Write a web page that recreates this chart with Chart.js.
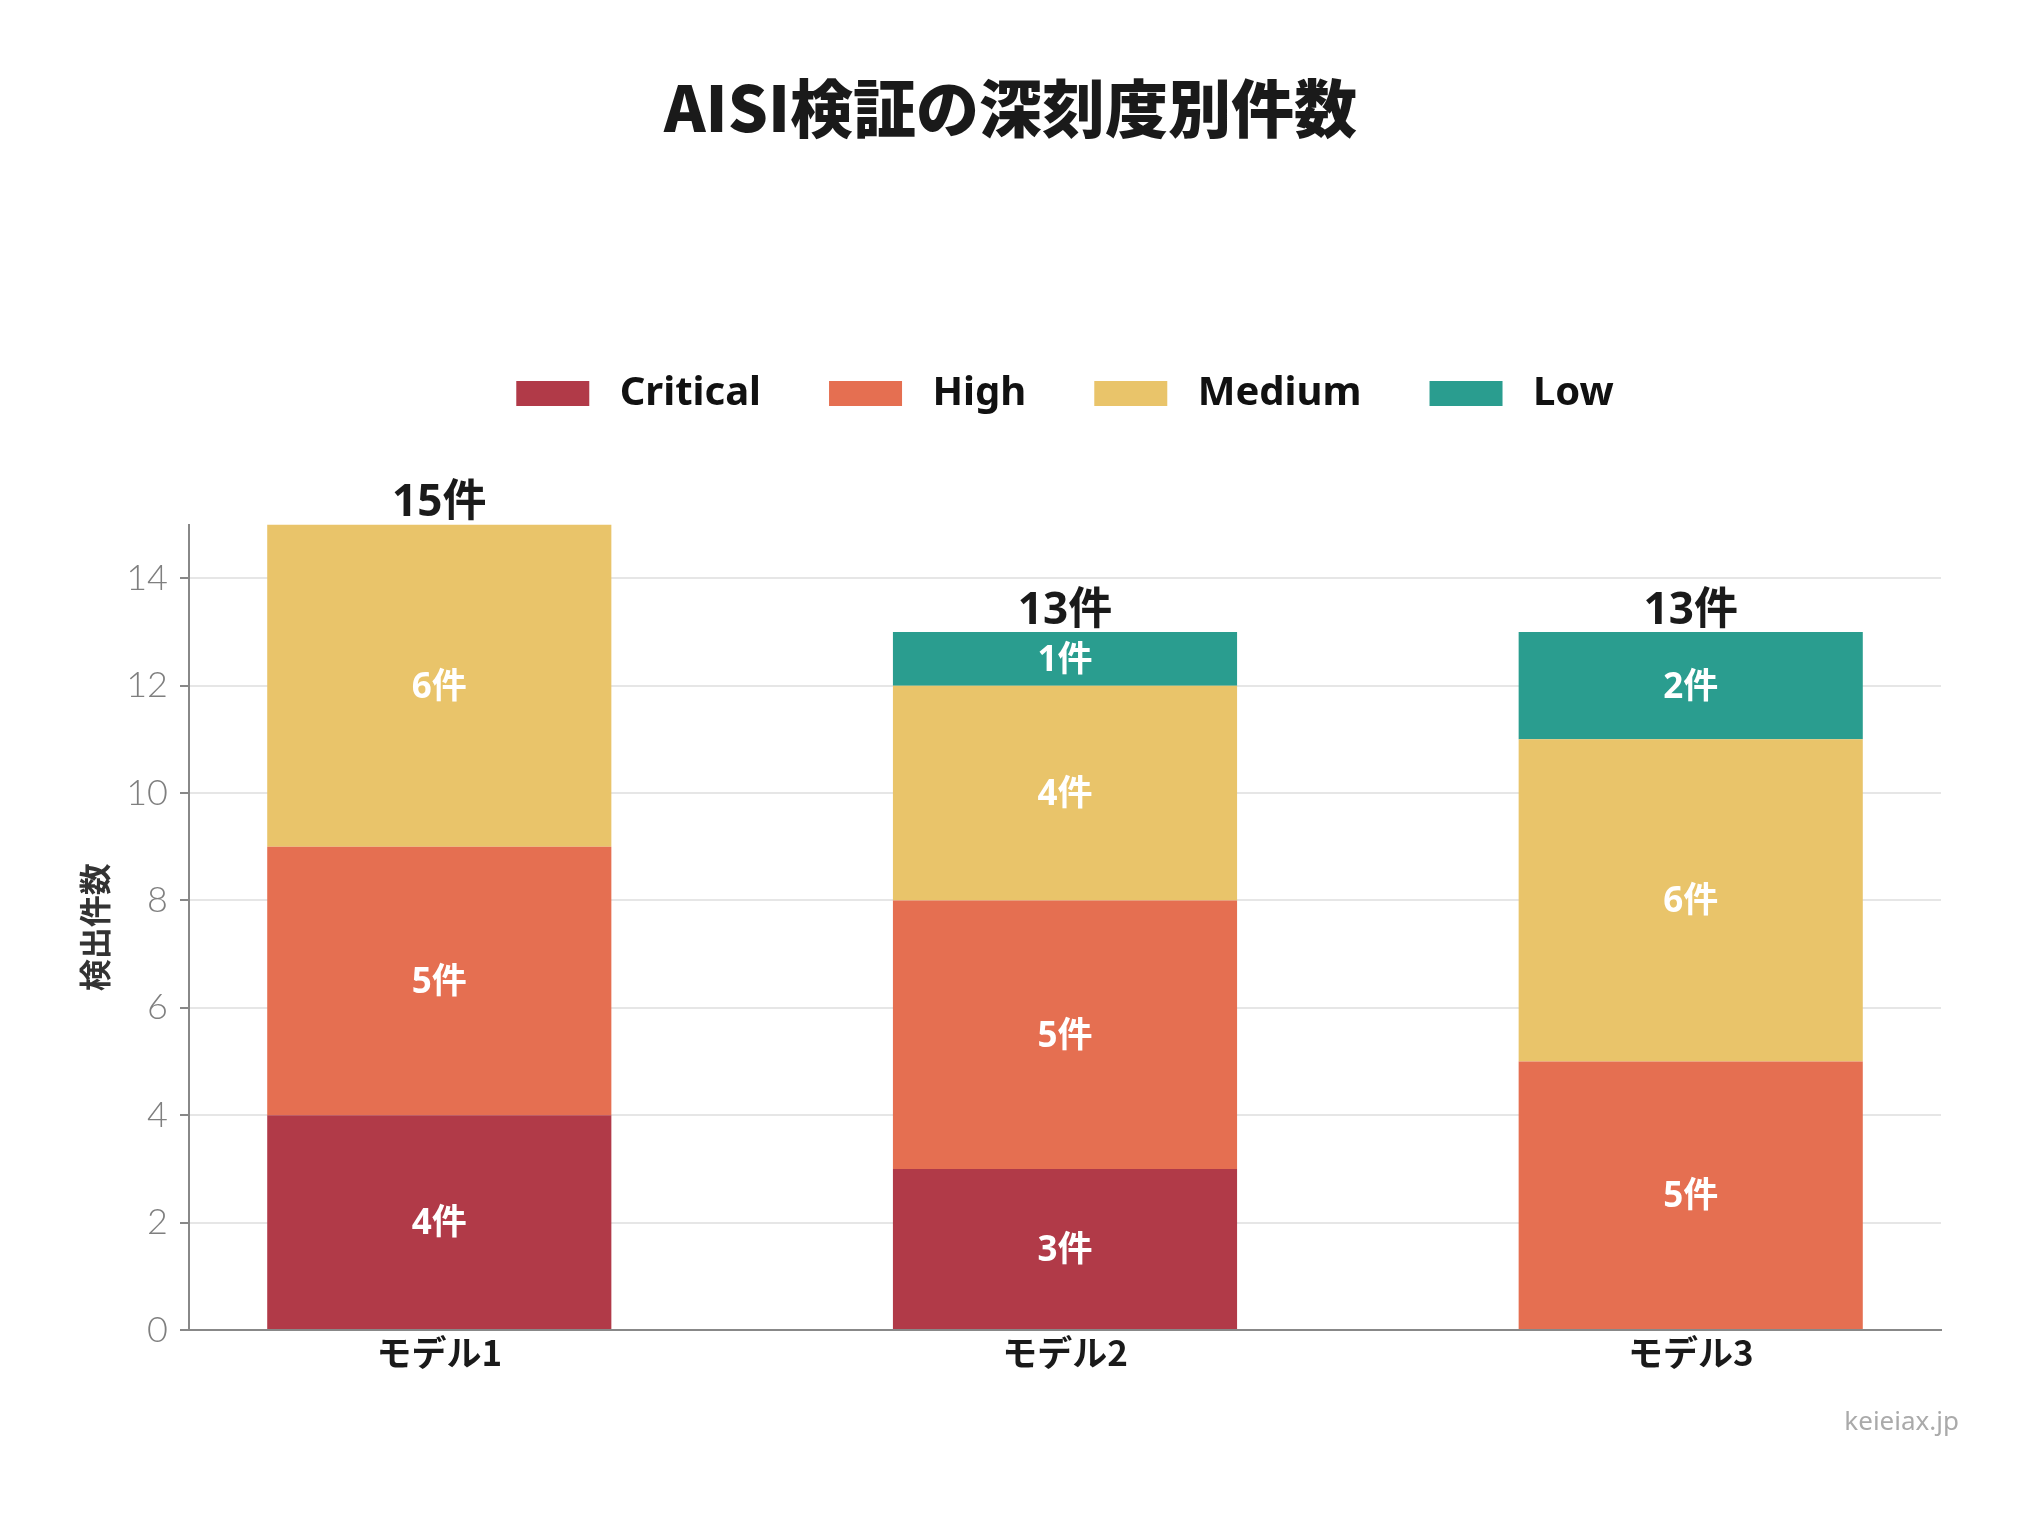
<!DOCTYPE html>
<html lang="ja">
<head>
<meta charset="utf-8">
<script src="https://cdn.jsdelivr.net/npm/chart.js@4.4.1/dist/chart.umd.min.js"></script>
<style>
  html, body { margin: 0; padding: 0; background: #ffffff; }
  #wrap { width: 2040px; height: 1516px; position: relative; }
</style>
</head>
<body>
<div id="wrap"><canvas id="c"></canvas></div>
<script>
// ---- data ----
const TITLE = 'AISI検証の深刻度別件数';
const Y_TITLE = '検出件数';
const UNIT = '件';
const CREDIT = 'keieiax.jp';
const categories = ['モデル1', 'モデル2', 'モデル3'];
const seriesNames = ['Critical', 'High', 'Medium', 'Low'];
const critical = [4, 3, 0];
const high = [5, 5, 5];
const medium = [6, 4, 6];
const low = [0, 1, 2];
const yTicks = [0, 2, 4, 6, 8, 10, 12, 14];
const yMax = 15;

const seriesValues = [critical, high, medium, low];
const seriesColors = ['#b13a48', '#e56f51', '#e9c46a', '#2a9d8f'];

const LATIN = "'Noto Sans', 'Noto Sans CJK JP', sans-serif";
const CJK = "'Noto Sans CJK JP', 'Noto Sans', sans-serif";

const datasets = seriesNames.map((name, i) => ({
  label: name,
  data: seriesValues[i].map((v, j) => ({ x: j, y: v })),
  backgroundColor: seriesColors[i],
  borderWidth: 0,
  categoryPercentage: 1.0,
  barPercentage: 0.55
}));

const labelPlugin = {
  id: 'segLabels',
  afterDatasetsDraw(chart) {
    const ctx = chart.ctx;
    ctx.save();
    ctx.textAlign = 'center';
    ctx.textBaseline = 'middle';
    chart.data.datasets.forEach((ds, i) => {
      const meta = chart.getDatasetMeta(i);
      meta.data.forEach((el, j) => {
        const v = seriesValues[i][j];
        if (!v) return;
        const p = el.getProps(['x', 'y', 'base'], true);
        ctx.font = `700 35px ${LATIN}`;
        ctx.fillStyle = '#ffffff';
        ctx.fillText(v + UNIT, p.x, (p.y + p.base) / 2 + 2);
      });
    });
    const xs = chart.scales.x, ys = chart.scales.y;
    categories.forEach((c, j) => {
      const total = seriesValues.reduce((s, arr) => s + arr[j], 0);
      ctx.font = `700 44px ${LATIN}`;
      ctx.fillStyle = '#1a1a1a';
      ctx.fillText(total + UNIT, xs.getPixelForValue(j), ys.getPixelForValue(total) - 21);
    });
    ctx.restore();
  },
  afterDraw(chart) {
    const ctx = chart.ctx;
    ctx.save();
    ctx.font = `400 26px ${LATIN}`;
    ctx.fillStyle = '#aaaaaa';
    ctx.textAlign = 'right';
    ctx.textBaseline = 'middle';
    ctx.fillText(CREDIT, 1959, 1423);
    ctx.restore();
  }
};

new Chart(document.getElementById('c'), {
  type: 'bar',
  data: { datasets },
  plugins: [labelPlugin],
  options: {
    responsive: true,
    maintainAspectRatio: false,
    animation: false,
    events: [],
    layout: { padding: { top: 0, left: 80, right: 99, bottom: 60 } },
    plugins: {
      title: {
        display: true,
        text: TITLE,
        color: '#1a1a1a',
        font: { family: CJK, size: 63, weight: 900, lineHeight: 1.2 },
        padding: { top: 70, bottom: 160 }
      },
      subtitle: {
        display: true,
        text: ' ',
        position: 'top',
        weight: 500,
        font: { size: 10, lineHeight: 1 },
        padding: { top: 0, bottom: 91 }
      },
      legend: {
        display: true,
        position: 'top',
        fullSize: false,
        labels: {
          boxWidth: 73,
          boxHeight: 25,
          padding: 68,
          color: '#111111',
          font: { family: LATIN, size: 40, weight: 700 },
          generateLabels(chart) {
            return chart.data.datasets.map((ds, i) => ({
              text: ' ' + ds.label,
              fillStyle: ds.backgroundColor,
              strokeStyle: ds.backgroundColor,
              lineWidth: 0,
              hidden: false,
              datasetIndex: i,
              fontColor: '#111111'
            }));
          }
        }
      },
      tooltip: { enabled: false }
    },
    scales: {
      x: {
        type: 'linear',
        min: -0.4,
        max: 2.4,
        offset: false,
        stacked: true,
        grid: { display: false, drawTicks: false, offset: false },
        border: { display: true, color: '#888888', width: 2 },
        afterBuildTicks(scale) { scale.ticks = categories.map((c, i) => ({ value: i })); },
        afterFit(scale) { scale.height = 126; },
        ticks: {
          padding: 2,
          maxRotation: 0,
          autoSkip: false,
          color: '#1a1a1a',
          font: { family: CJK, size: 35, weight: 700, lineHeight: 1.2 },
          callback: (v) => categories[v]
        }
      },
      y: {
        type: 'linear',
        min: 0,
        max: yMax,
        stacked: true,
        afterBuildTicks(scale) { scale.ticks = yTicks.map(v => ({ value: v })); },
        afterFit(scale) { scale.width = 109; },
        grid: {
          display: true,
          color: '#e6e6e6',
          lineWidth: 2,
          drawTicks: true,
          tickLength: 9,
          tickColor: '#888888',
          tickWidth: 2
        },
        border: { display: true, color: '#888888', width: 2 },
        ticks: {
          padding: 12,
          color: '#7f7f7f',
          font: { family: "Lato, 'Noto Sans', sans-serif", size: 36, weight: 300 }
        },
        title: {
          display: true,
          text: Y_TITLE,
          color: '#333333',
          font: { family: CJK, size: 32, weight: 700, lineHeight: 0.9 },
          padding: { top: 0, bottom: 0 }
        }
      }
    }
  }
});
</script>
</body>
</html>
